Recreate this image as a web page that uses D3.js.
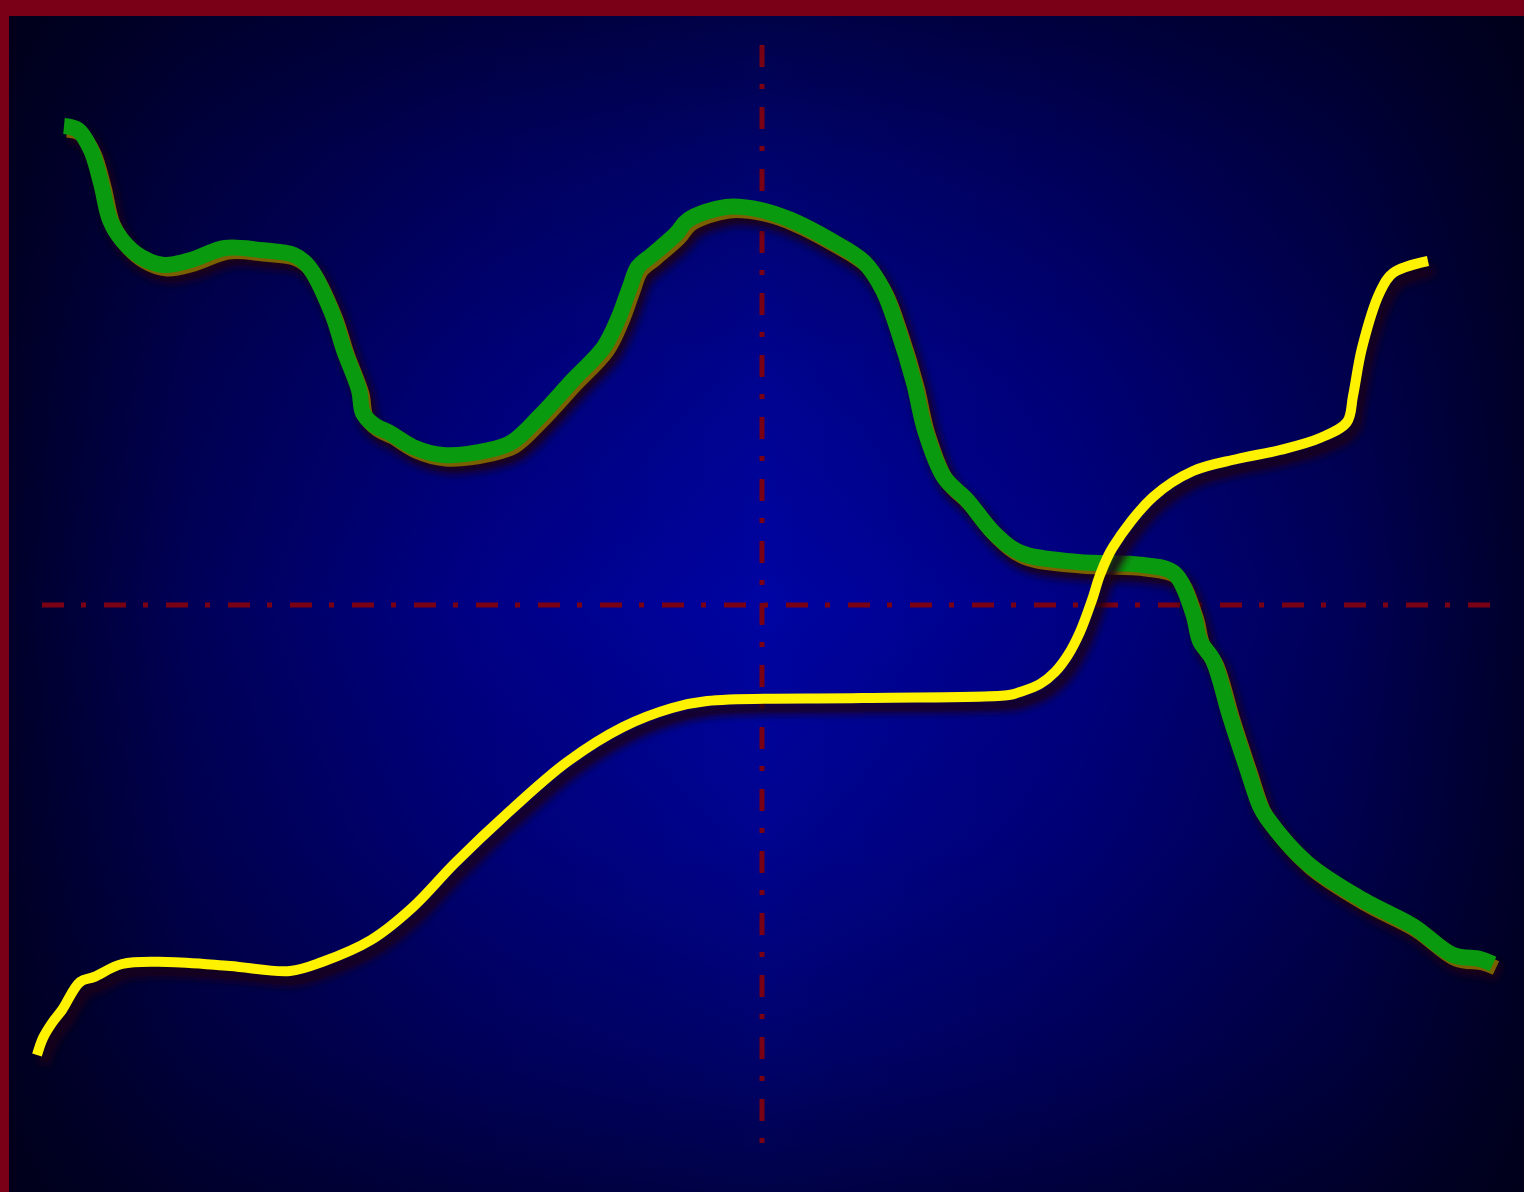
<!DOCTYPE html>
<html>
<head>
<meta charset="utf-8">
<script src="https://cdn.jsdelivr.net/npm/d3@7"></script>
<style>
html,body{margin:0;padding:0;background:#7a0018;overflow:hidden;}
svg{display:block;}
</style>
</head>
<body>
<script>
// ---- data (x in abstract units, y in abstract units; crosshair at x=72.2, y=0)
const greenX = [2.4,3.8,5.1,6.1,7.0,8.2,10.1,12.4,15.1,18.5,22.0,25.4,26.9,29.2,30.4,31.9,32.3,33.4,35.0,37.3,40.3,44.9,47.2,49.9,53.3,56.4,57.9,59.0,59.8,61.2,63.6,64.8,68.6,72.1,75.1,79.0,82.4,84.3,85.8,87.4,88.5,90.4,92.7,95.4,98.1,103.8,110.3,113.4,115.3,116.0,117.3,119.0,120.7,122.0,122.7,126.7,132.3,137.3,141.3,144.0,145.3];
const greenY = [47.9,47.5,45.5,42.2,38.5,36.5,34.8,34.0,34.5,35.7,35.5,35.0,33.8,29.2,25.5,21.5,19.2,18.0,17.2,15.8,15.0,15.5,16.3,18.8,22.5,25.8,28.8,31.8,33.8,35.0,37.1,38.5,39.8,39.5,38.5,36.5,34.3,31.5,27.5,22.2,17.5,12.8,10.5,7.2,5.2,4.3,4.0,3.2,-0.8,-3.6,-5.5,-11.1,-16.3,-20.1,-21.3,-25.8,-29.5,-32.1,-35.0,-35.4,-35.9];
const yellowX = [-0.3,0.3,1.2,2.2,4.0,5.4,8.2,12.7,19.0,25.0,28.2,33.1,37.3,41.5,47.1,52.7,58.3,63.2,66.7,82.2,96.9,98.0,100.0,101.5,102.8,104.0,105.2,106.0,107.3,111.3,115.3,119.7,124.0,128.0,130.7,131.3,132.2,134.0,135.3,138.8];
const yellowY = [-45.0,-43.3,-41.8,-40.5,-37.7,-37.2,-35.9,-35.7,-36.1,-36.6,-35.7,-33.5,-30.2,-25.8,-20.5,-15.7,-12.2,-10.3,-9.6,-9.3,-9.0,-8.7,-7.9,-6.7,-5.0,-2.7,0.5,3.0,5.8,10.8,13.4,14.6,15.5,16.7,18.3,20.9,25.7,31.3,33.2,34.4];
const crossX = 72.2, crossY = 0;
const xExtent = [0, 145.2];
const yExtent = [-53.8, 56];

const W = 1524, H = 1192;
const x = d3.scaleLinear().domain([0, 145.2]).range([40, 1492]);
const y = d3.scaleLinear().domain([-54, 56]).range([1145, 45]);

const svg = d3.select("body").append("svg").attr("width", W).attr("height", H);
const defs = svg.append("defs");
const hg = defs.append("linearGradient").attr("id","hg").attr("x1","0").attr("x2","1").attr("y1","0").attr("y2","0");
[[0,"#00002a"],[0.12,"#000058"],[0.3,"#000084"],[0.5,"#0004a2"],[0.7,"#000084"],[0.88,"#000058"],[1,"#00002a"]]
  .forEach(([o,c]) => hg.append("stop").attr("offset", o).attr("stop-color", c));
const vg = defs.append("linearGradient").attr("id","vg").attr("x1","0").attr("x2","0").attr("y1","0").attr("y2","1");
[[0,0.62],[0.12,0.38],[0.3,0.14],[0.5,0],[0.7,0.14],[0.88,0.38],[1,0.62]]
  .forEach(([o,a]) => vg.append("stop").attr("offset", o).attr("stop-color", "#000010").attr("stop-opacity", a));
const f = defs.append("filter").attr("id","blur").attr("x","-10%").attr("y","-10%").attr("width","120%").attr("height","120%");
f.append("feGaussianBlur").attr("stdDeviation", 4);

svg.append("rect").attr("x",0).attr("y",0).attr("width",W).attr("height",H).attr("fill","#7a0018");
svg.append("rect").attr("x",9).attr("y",16).attr("width",W-9).attr("height",H-16).attr("fill","url(#hg)");
svg.append("rect").attr("x",9).attr("y",16).attr("width",W-9).attr("height",H-16).attr("fill","url(#vg)");

// crosshair
const dash = "22,17,5,18";
svg.append("line").attr("x1", x(xExtent[0]) + 2).attr("x2", x(xExtent[1]))
  .attr("y1", y(crossY)).attr("y2", y(crossY))
  .attr("stroke","#7a0014").attr("stroke-width",5).attr("stroke-dasharray",dash);
svg.append("line").attr("x1", x(crossX)).attr("x2", x(crossX))
  .attr("y1", y(yExtent[1])).attr("y2", y(yExtent[0]))
  .attr("stroke","#7a0014").attr("stroke-width",5).attr("stroke-dasharray",dash);

const line = d3.line().x(d => x(d[0])).y(d => y(d[1])).curve(d3.curveCatmullRom.alpha(0.5));
const green = greenX.map((v,i) => [v, greenY[i]]);
const yellow = yellowX.map((v,i) => [v, yellowY[i]]);

// green
svg.append("path").attr("d", line(green)).attr("fill","none")
  .attr("stroke","#1a0014").attr("stroke-width",18).attr("filter","url(#blur)")
  .attr("transform","translate(6,9)");
svg.append("path").attr("d", line(green)).attr("fill","none")
  .attr("stroke","#7a6000").attr("stroke-width",15)
  .attr("transform","translate(3,4)");
svg.append("path").attr("d", line(green)).attr("fill","none")
  .attr("stroke","#0a9a10").attr("stroke-width",16);

// yellow
svg.append("path").attr("d", line(yellow)).attr("fill","none")
  .attr("stroke","#1a0014").attr("stroke-width",11).attr("filter","url(#blur)")
  .attr("transform","translate(6,9)");
svg.append("path").attr("d", line(yellow)).attr("fill","none")
  .attr("stroke","#fff200").attr("stroke-width",10);
</script>
</body>
</html>
